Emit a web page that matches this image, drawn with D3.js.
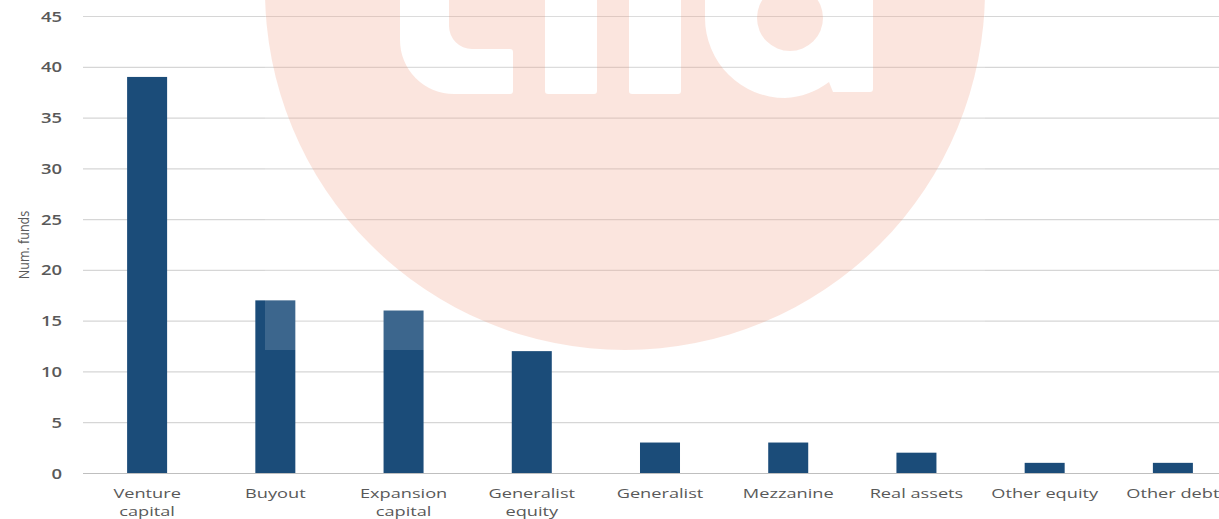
<!DOCTYPE html>
<html>
<head>
<meta charset="utf-8">
<script src="https://cdn.jsdelivr.net/npm/d3@7"></script>
<style>
  html, body { margin: 0; padding: 0; background: #ffffff; }
  svg { display: block; }
</style>
</head>
<body>
<svg id="chart" width="1219" height="519"></svg>
<script>
// ---- data ----
const categories = ["Venture capital", "Buyout", "Expansion capital", "Generalist equity",
  "Generalist", "Mezzanine", "Real assets", "Other equity", "Other debt"];
const labelLines = [["Venture", "capital"], ["Buyout"], ["Expansion", "capital"], ["Generalist", "equity"],
  ["Generalist"], ["Mezzanine"], ["Real assets"], ["Other equity"], ["Other debt"]];
const values = [39, 17, 16, 12, 3, 3, 2, 1, 1];
const yTicks = [0, 5, 10, 15, 20, 25, 30, 35, 40, 45];
const yLabel = "Num. funds";

// ---- layout ----
const W = 1219, H = 519;
const plotLeft = 83, plotRight = 1237, plotTop = 16, plotBottom = 473;
const sx = 1.32; // horizontal text stretch of the original picture
const textColor = "#595959";
const barColor = "#1b4c79";

const svg = d3.select("#chart");

const x = d3.scaleBand().domain(categories).range([plotLeft, plotRight])
  .paddingInner(0.688).paddingOuter(0.344);
const y = d3.scaleLinear().domain([0, 45]).range([plotBottom, plotTop]);

// grid + y axis
const yAxis = d3.axisLeft(y).tickValues(yTicks).tickSize(-(W - plotLeft)).tickPadding(0);
const gy = svg.append("g").attr("transform", `translate(${plotLeft},0)`).call(yAxis);
gy.select(".domain").remove();
gy.selectAll(".tick line")
  .attr("stroke", d => d === 0 ? "#bfbfbf" : "#d6d6d6")
  .attr("stroke-width", 1.2);
gy.selectAll(".tick text")
  .attr("x", null).attr("dy", "0.36em")
  .attr("transform", `translate(-21,0) scale(${sx},1)`)
  .attr("text-anchor", "end")
  .attr("fill", textColor)
  .style("font-family", "'Open Sans', sans-serif")
  .style("font-size", "14px")
  .style("font-weight", "600");

// y label
svg.append("text")
  .attr("transform", `translate(29,245) scale(1.2,1) rotate(-90)`)
  .attr("text-anchor", "middle")
  .attr("fill", textColor)
  .style("font-family", "'Open Sans', sans-serif")
  .style("font-size", "12.5px")
  .text(yLabel);

// bars
svg.append("g").selectAll("rect")
  .data(categories)
  .join("rect")
  .attr("x", d => x(d))
  .attr("width", x.bandwidth())
  .attr("y", (d, i) => y(values[i]))
  .attr("height", (d, i) => y(0) - y(values[i]))
  .attr("fill", barColor);

// x labels
const gx = svg.append("g");
categories.forEach((c, i) => {
  const cx = x(c) + x.bandwidth() / 2;
  labelLines[i].forEach((line, j) => {
    gx.append("text")
      .attr("transform", `translate(${cx},${498 + j * 18}) scale(1.4,1)`)
      .attr("text-anchor", "middle")
      .attr("fill", textColor)
      .style("font-family", "'Open Sans', sans-serif")
      .style("font-size", "13px")
      .text(line);
  });
});

// ---- watermark (semi-transparent logo disc with letter cut-outs) ----
const wm = svg.append("g").attr("pointer-events", "none");
const ccx = 625, ccy = -10, cr = 360;
wm.append("rect")
  .attr("x", ccx - cr).attr("y", -20)
  .attr("width", 2 * cr).attr("height", ccy + cr + 20)
  .attr("fill", "#ffffff").attr("fill-opacity", 0.15);

const circlePath = `M${ccx - cr},${ccy} A${cr},${cr} 0 1 0 ${ccx + cr},${ccy} A${cr},${cr} 0 1 0 ${ccx - cr},${ccy} Z`;
const l1 = "M400,-20 L400,40 A54,54 0 0 0 454,94 L510,94 Q513,94 513,91 L513,52 Q513,49 510,49 L472,49 A23,23 0 0 1 449,26 L449,-20 Z";
const l2 = "M545,-20 L545,91 Q545,94 548,94 L594,94 Q597,94 597,91 L597,-20 Z";
const l3 = "M629,-20 L629,91 Q629,94 632,94 L678,94 Q681,94 681,91 L681,-20 Z";
const l4 = "M705,-20 L705,18 A80,80 0 0 0 785,98 A80,80 0 0 0 829,82 L833,92 L870,92 Q873,92 873,89 L873,-20 Z";
const l4hole = "M757,18 A33,33 0 1 0 823,18 A33,33 0 1 0 757,18 Z";
wm.append("path")
  .attr("d", [circlePath, l1, l2, l3, l4, l4hole].join(" "))
  .attr("fill-rule", "evenodd")
  .attr("fill", "#ee8a6a")
  .attr("fill-opacity", 0.22);
</script>
</body>
</html>
